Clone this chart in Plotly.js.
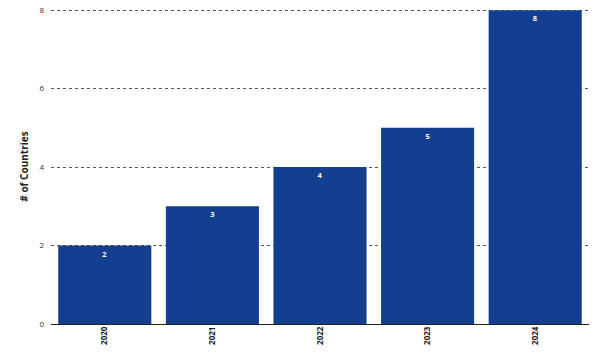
<!DOCTYPE html>
<html><head><meta charset="utf-8">
<script src="https://cdn.plot.ly/plotly-3.0.1.min.js"></script>
<style>html,body{margin:0;padding:0;background:#fff}#chart{width:600px;height:361px}</style>
</head><body><div id="chart"></div>
<script>
var years = ["2020", "2021", "2022", "2023", "2024"];
var countries = [2, 3, 4, 5, 8];
var yTicks = [0, 2, 4, 6, 8];

var trace = {
  type: "bar",
  x: years,
  y: countries,
  marker: {color: "#143e90", line: {width: 0}},
  text: countries.map(String),
  textposition: "inside",
  insidetextanchor: "end",
  textfont: {family: "Open Sans", size: 7.5, color: "#ffffff", weight: "bold"},
  hoverinfo: "none"
};

var layout = {
  width: 600, height: 361,
  margin: {l: 51, r: 11, t: 9, b: 37},
  paper_bgcolor: "#ffffff", plot_bgcolor: "#ffffff",
  bargap: 0.135,
  showlegend: false,
  font: {family: "Open Sans", size: 8, color: "#333333"},
  xaxis: {
    type: "category",
    tickangle: -90,
    showgrid: false,
    ticks: "",
    tickfont: {family: "Open Sans", size: 8, color: "#222222", weight: "bold"},
    showline: false
  },
  yaxis: {
    range: [0, 8.03],
    tickvals: yTicks,
    ticktext: yTicks.map(String),
    showgrid: true,
    gridcolor: "#555555",
    griddash: "dot",
    gridwidth: 1,
    zeroline: true,
    zerolinecolor: "#222222",
    zerolinewidth: 1,
    ticks: "",
    ticklabelstandoff: 6,
    tickfont: {family: "Open Sans", size: 8, color: "#333333"},
    title: {text: "# of Countries", font: {family: "Open Sans", size: 10, color: "#222222", weight: "bold"}, standoff: 8}
  }
};

Plotly.newPlot("chart", [trace], layout, {displayModeBar: false, staticPlot: true});
</script></body></html>
